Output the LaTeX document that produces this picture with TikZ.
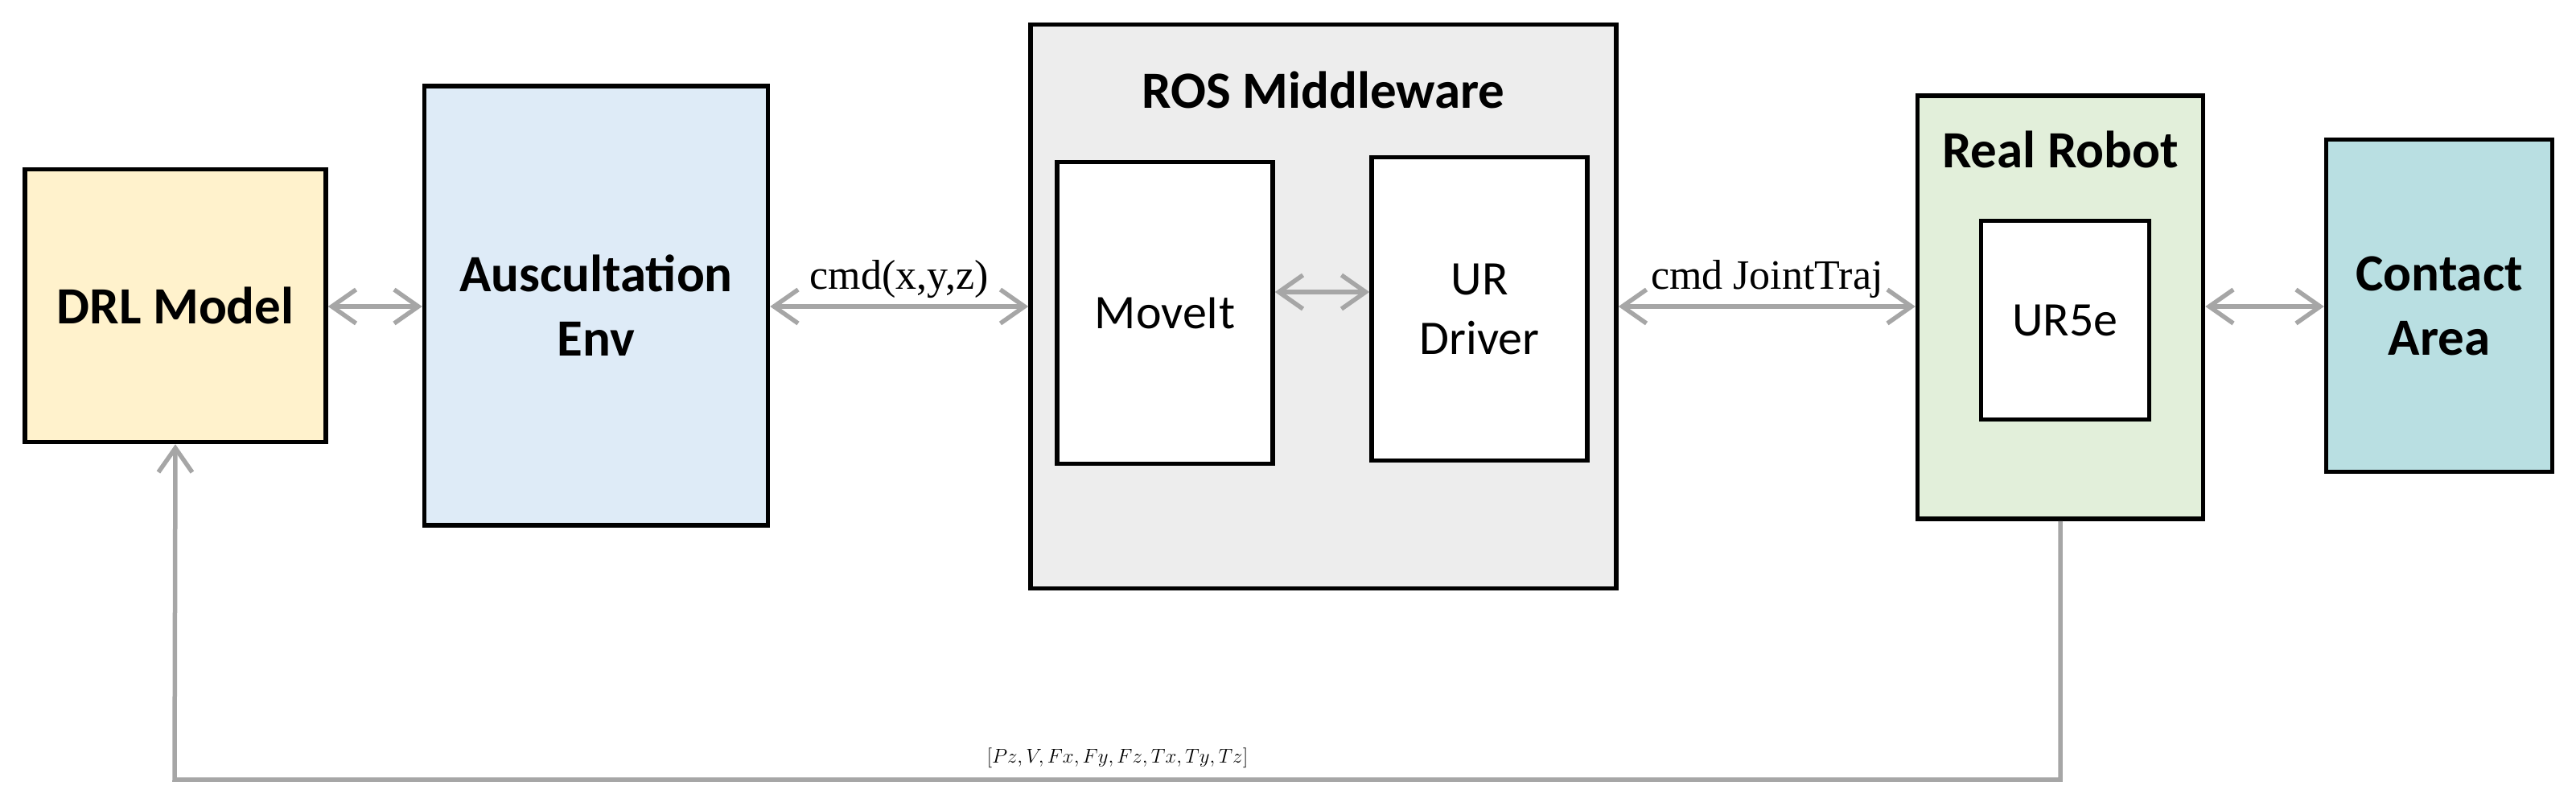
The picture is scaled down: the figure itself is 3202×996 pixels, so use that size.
\documentclass[tikz,border=0pt]{standalone}
\usepackage{fontspec}
\setmainfont{Carlito}
\newfontfamily\serifl{Liberation Serif}
\usetikzlibrary{arrows.meta}
\definecolor{cy}{HTML}{FFF2CC}
\definecolor{cb}{HTML}{DEEBF7}
\definecolor{cg}{HTML}{EDEDED}
\definecolor{cgr}{HTML}{E2EFDA}
\definecolor{ct}{HTML}{B9DFE2}
\definecolor{ag}{HTML}{A6A6A6}
\begin{document}
\begin{tikzpicture}[x=1pt,y=-1pt,
 box/.style={draw=black,line width=5.5pt,inner sep=0pt,align=center,font=\fontsize{65}{80}\selectfont\bfseries},
 ibox/.style={draw=black,line width=5.5pt,fill=white,inner sep=0pt,align=center,font=\fontsize{60}{74}\selectfont},
 tip/.tip={Straight Barb[length=30pt,width=42pt,line width=5.5pt]},
 ar/.style={draw=ag,line width=5.5pt,tip-tip},
 lab/.style={font=\fontsize{52}{62}\selectfont\serifl}]
\useasboundingbox (0,0) rectangle (3202,996);
\node[box,fill=cy,minimum width=374,minimum height=339] (drl) at (218,380) {DRL Model};
\node[box,fill=cb,minimum width=427,minimum height=546] (env) at (741,380) {Auscultation\\Env};
\node[box,fill=cg,minimum width=728,minimum height=701] (ros) at (1645,381) {};
\node[font=\fontsize{65}{80}\selectfont\bfseries] (rost) at (1645,112) {ROS Middleware};
\node[ibox,minimum width=268,minimum height=375] (move) at (1448,389) {MoveIt};
\node[ibox,minimum width=268,minimum height=377] (urd) at (1839,384) {UR\\Driver};
\node[box,fill=cgr,minimum width=355,minimum height=526] (rr) at (2561,382) {};
\node[font=\fontsize{65}{80}\selectfont\bfseries] (rrt) at (2561,186) {Real Robot};
\node[ibox,minimum width=209,minimum height=247] (ur5) at (2567,398) {UR5e};
\node[box,fill=ct,minimum width=281,minimum height=413] (ca) at (3032,380) {Contact\\Area};
\draw[ar] (drl.east|-0,381) -- (env.west|-0,381);
\draw[ar] (env.east|-0,381) -- node[lab,above=4pt]{cmd(x,y,z)} (ros.west|-0,381);
\draw[ar] (move.east|-0,363) -- (urd.west|-0,363);
\draw[ar] (ros.east|-0,381) -- node[lab,above=4pt]{cmd JointTraj} (rr.west|-0,381);
\draw[ar] (rr.east|-0,381) -- (ca.west|-0,381);
\coordinate (c1) at (217,969);
\draw[draw=ag,line width=5.5pt,-tip] (rr.south) |- (c1) node[pos=0.75,above=8pt,font=\fontsize{50}{60}\selectfont]{$[Pz,V,Fx,Fy,Fz,Tx,Ty,Tz]$} -- (drl.south);
\end{tikzpicture}
\end{document}
